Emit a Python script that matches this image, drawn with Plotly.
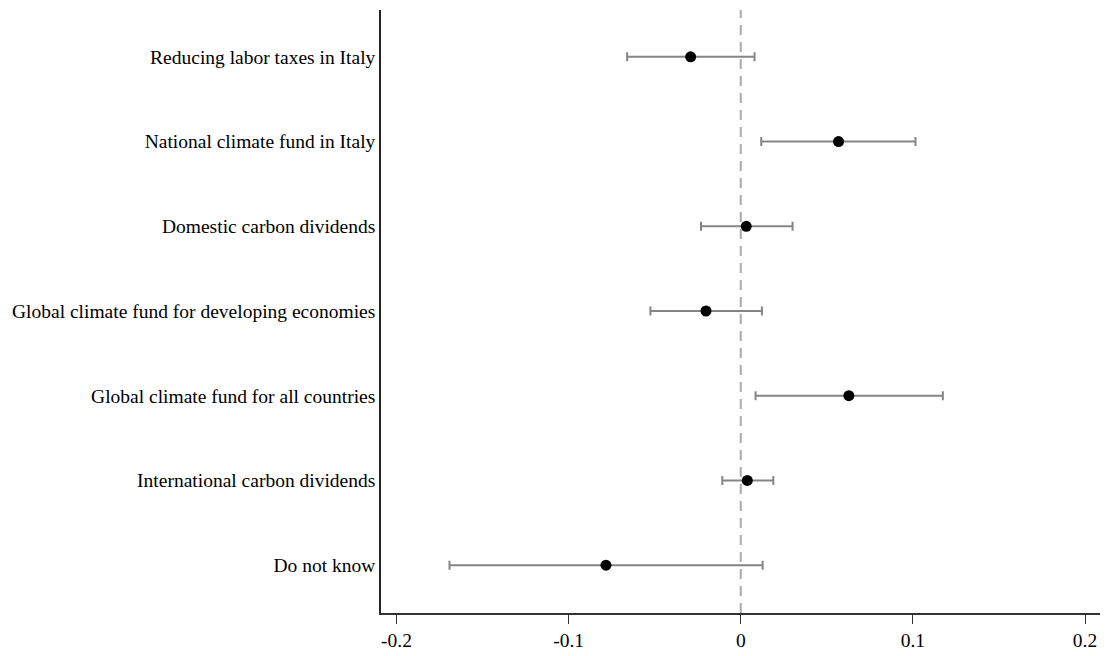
import plotly.graph_objects as go

categories = [
    "Reducing labor taxes in Italy",
    "National climate fund in Italy",
    "Domestic carbon dividends",
    "Global climate fund for developing economies",
    "Global climate fund for all countries",
    "International carbon dividends",
    "Do not know",
]
estimates = [-0.0291, 0.0568, 0.0032, -0.0202, 0.0628, 0.0038, -0.0783]
ci_low = [-0.0660, 0.0119, -0.0231, -0.0525, 0.0086, -0.0107, -0.1692]
ci_high = [0.0080, 0.1015, 0.0301, 0.0123, 0.1174, 0.0189, 0.0127]
x_ticks = [-0.2, -0.1, 0, 0.1, 0.2]
x_tick_labels = ["-0.2", "-0.1", "0", "0.1", "0.2"]

n = len(categories)
ypos = [n - i for i in range(n)]

fig = go.Figure()
fig.add_trace(go.Scatter(
    x=estimates,
    y=ypos,
    mode="markers",
    marker=dict(color="black", size=11),
    error_x=dict(
        type="data",
        symmetric=False,
        array=[h - e for h, e in zip(ci_high, estimates)],
        arrayminus=[e - l for e, l in zip(estimates, ci_low)],
        color="#858585",
        thickness=2,
        width=4.5,
    ),
    showlegend=False,
))

fig.add_shape(type="line", x0=0, x1=0, xref="x", y0=0, y1=1, yref="paper",
              line=dict(color="#AAAAAA", width=2, dash="10px,7px"), layer="below")

font = dict(family="Liberation Serif, Times New Roman, serif", size=19.5, color="black")

fig.update_layout(
    width=1105, height=656,
    margin=dict(l=381, r=5, t=10, b=40),
    plot_bgcolor="white", paper_bgcolor="white",
    font=font,
    xaxis=dict(
        range=[-0.209, 0.2087],
        tickvals=x_ticks, ticktext=x_tick_labels,
        showgrid=False, zeroline=False,
        showline=True, linecolor="#333333", linewidth=1.5,
        ticks="outside", ticklen=9, tickcolor="#333333", tickwidth=1.2,
        tickfont=font,
    ),
    yaxis=dict(
        range=[0.435, 7.553],
        tickvals=ypos, ticktext=categories,
        showgrid=False, zeroline=False,
        showline=True, linecolor="#222222", linewidth=1.5,
        ticks="", ticklabelstandoff=0,
        tickfont=font,
    ),
)

fig.write_html("out.html", config={"displayModeBar": False},
               post_script="document.body.style.margin='0';")
